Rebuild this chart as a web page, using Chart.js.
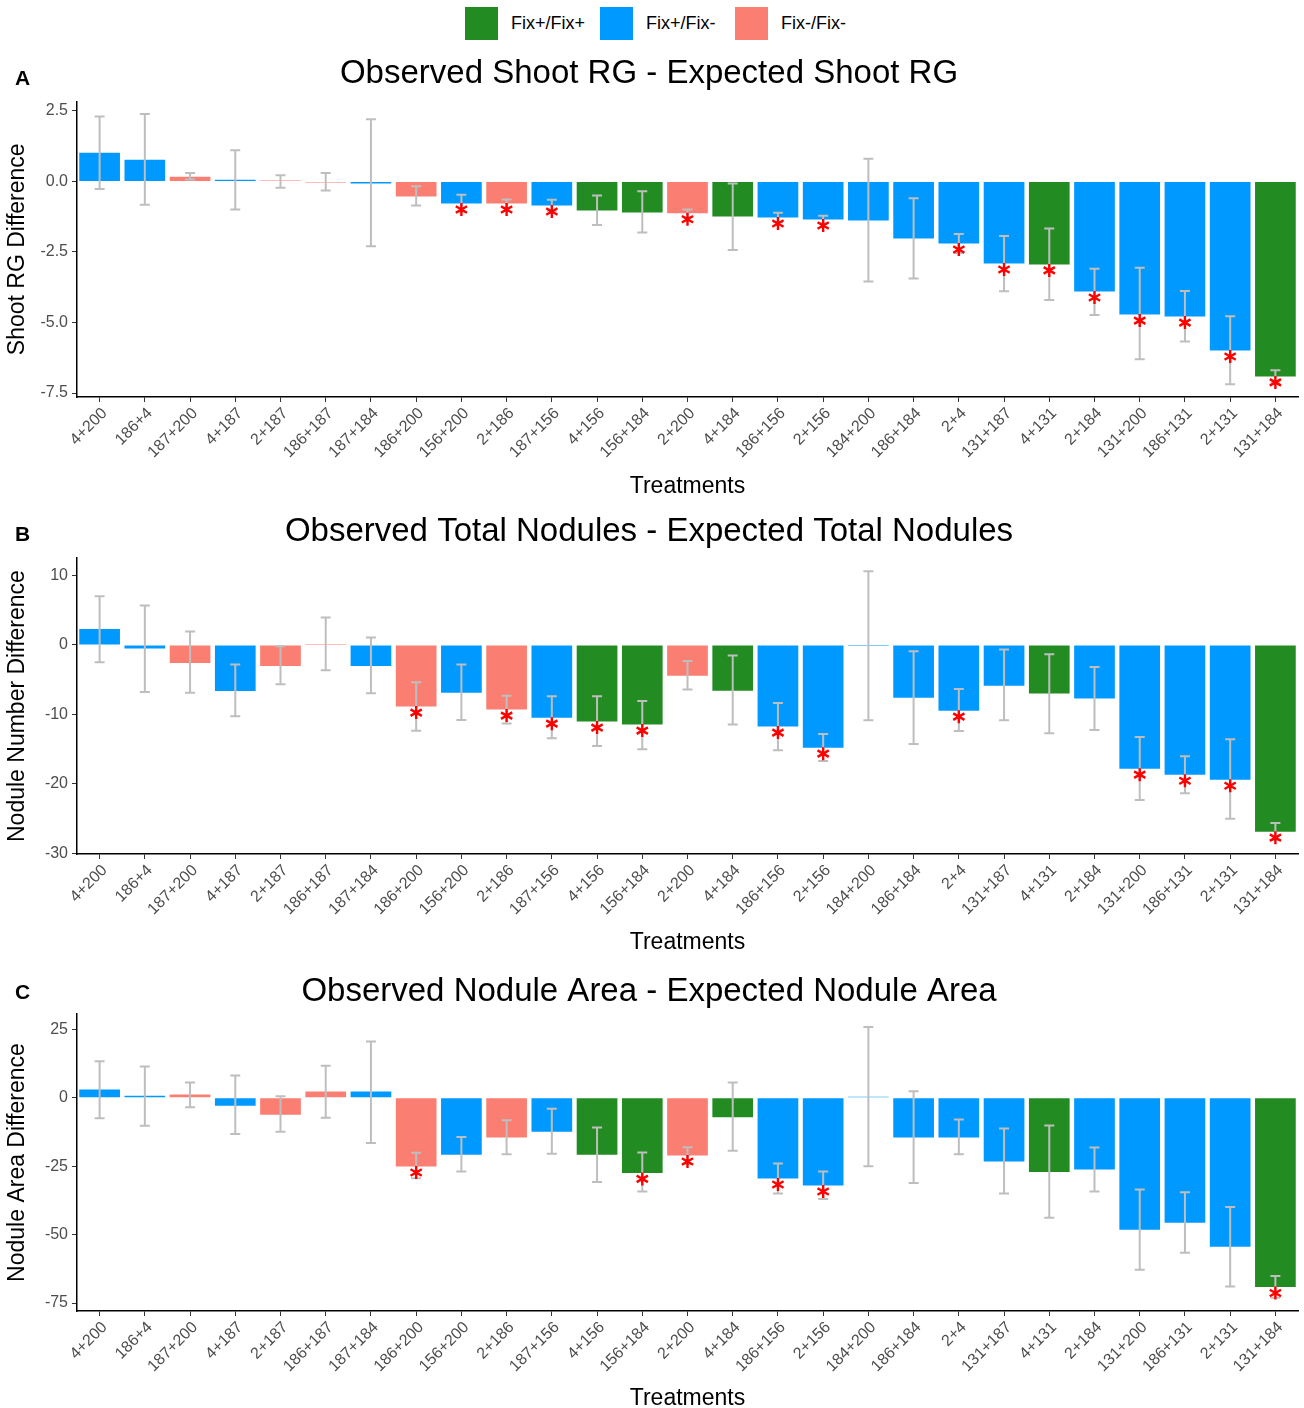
<!DOCTYPE html>
<html lang="en">
<head>
<meta charset="UTF-8"/>
<title>Observed - Expected differences</title>
<script src="https://cdn.jsdelivr.net/npm/chart.js"></script>
<style>
    html, body {
        margin: 0;
        padding: 0;
        background: #fff;
        width: 1304px;
        height: 1408px;
        overflow: hidden;
        font-family: 'Liberation Sans', Arial, sans-serif;
    }
    .legend {
        height: 48px;
        display: flex;
        padding: 7px 0 0 465px;
        box-sizing: border-box;
    }
    .legend-item {
        display: flex;
        align-items: center;
        width: 135px;
        height: 33px;
        font-size: 18px;
        color: #000;
    }
    .legend-item .box {
        width: 33px;
        height: 33px;
        margin-right: 13px;
    }
    canvas { display: block; }
</style>
</head>
<body>
<div class="legend" id="legend"></div>
<canvas id="chartA" width="1304" height="457"></canvas>
<canvas id="chartB" width="1304" height="455"></canvas>
<canvas id="chartC" width="1304" height="456"></canvas>

<script>
    const FONT = "'Liberation Sans', Arial, sans-serif";

    // treatments in plotted order, and their fixation group
    const treatments = ['4+200', '186+4', '187+200', '4+187', '2+187', '186+187', '187+184', '186+200', '156+200',
        '2+186', '187+156', '4+156', '156+184', '2+200', '4+184', '186+156', '2+156', '184+200', '186+184',
        '2+4', '131+187', '4+131', '2+184', '131+200', '186+131', '2+131', '131+184'];
    const fixGroup = ['Fix+/Fix-', 'Fix+/Fix-', 'Fix-/Fix-', 'Fix+/Fix-', 'Fix-/Fix-', 'Fix-/Fix-', 'Fix+/Fix-', 'Fix-/Fix-', 'Fix+/Fix-',
        'Fix-/Fix-', 'Fix+/Fix-', 'Fix+/Fix+', 'Fix+/Fix+', 'Fix-/Fix-', 'Fix+/Fix+', 'Fix+/Fix-', 'Fix+/Fix-', 'Fix+/Fix-', 'Fix+/Fix-',
        'Fix+/Fix-', 'Fix+/Fix-', 'Fix+/Fix+', 'Fix+/Fix-', 'Fix+/Fix-', 'Fix+/Fix-', 'Fix+/Fix-', 'Fix+/Fix+'];
    const groupNames = ['Fix+/Fix+', 'Fix+/Fix-', 'Fix-/Fix-'];
    const groupColors = ['#228B22', '#0099FF', '#FA7F72'];

    // A: shoot RG difference
    const shootDiff = [1.02, 0.77, 0.17, 0.06, 0.02, -0.02, -0.07, -0.53, -0.78, -0.78, -0.85, -1.03, -1.10, -1.13,
        -1.24, -1.28, -1.35, -1.38, -2.02, -2.20, -2.91, -2.94, -3.90, -4.72, -4.79, -5.99, -6.91];
    const shootLow = [-0.27, -0.83, 0.07, -0.99, -0.22, -0.32, -2.30, -0.85, -1.09, -0.92, -1.05, -1.54, -1.81, -1.27,
        -2.43, -1.45, -1.48, -3.55, -3.44, -2.54, -3.89, -4.20, -4.73, -6.30, -5.67, -7.19, -7.13];
    const shootHigh = [2.30, 2.39, 0.30, 1.11, 0.22, 0.30, 2.20, -0.17, -0.47, -0.64, -0.65, -0.50, -0.35, -0.99,
        -0.07, -1.11, -1.22, 0.80, -0.60, -1.86, -1.93, -1.67, -3.09, -3.06, -3.88, -4.78, -6.69];
    const shootSig = ['156+200', '2+186', '187+156', '2+200', '186+156', '2+156', '2+4', '131+187', '4+131',
        '2+184', '131+200', '186+131', '2+131', '131+184'];
    const shootTicks = [-7.5, -5, -2.5, 0, 2.5];

    // B: total nodule number difference
    const noduleDiff = [2.30, -0.53, -2.59, -6.62, -3.02, 0.15, -3.02, -8.88, -6.87, -9.31, -10.47, -11.04, -11.47, -4.42,
        -6.58, -11.76, -14.79, -0.08, -7.59, -9.46, -5.86, -7.01, -7.73, -17.81, -18.68, -19.40, -26.88];
    const noduleLow = [-2.5, -6.77, -6.87, -10.27, -5.66, -3.65, -6.96, -12.34, -10.8, -11.3, -13.44, -14.55, -15.03, -6.43,
        -11.47, -15.17, -16.7, -10.85, -14.26, -12.39, -10.85, -12.72, -12.24, -22.32, -21.36, -25.01, -28.1];
    const noduleHigh = [7.0, 5.66, 1.92, -2.83, -0.19, 3.94, 1.06, -5.38, -2.83, -7.30, -7.39, -7.39, -8.07, -2.30,
        -1.54, -8.35, -12.82, 10.6, -0.91, -6.34, -0.67, -1.34, -3.17, -13.25, -16.03, -13.59, -25.64];
    const noduleSig = ['186+200', '2+186', '187+156', '4+156', '156+184', '186+156', '2+156', '2+4',
        '131+200', '186+131', '2+131', '131+184'];
    const noduleTicks = [-30, -20, -10, 0, 10];

    // C: nodule area difference
    const areaDiff = [2.93, 0.73, 1.1, -2.93, -6.23, 2.2, 2.2, -25.15, -20.88, -14.53, -12.45, -20.88, -27.47, -21.12,
        -7.2, -29.55, -32.11, 0.3, -14.53, -14.53, -23.32, -27.11, -26.25, -48.23, -45.67, -54.46, -69.11];
    const areaLow = [-7.57, -10.26, -3.54, -13.31, -12.45, -7.33, -16.6, -29.4, -26.98, -20.63, -20.51, -30.77, -34.31, -24.2,
        -19.41, -35.04, -37.0, -25.03, -31.14, -20.63, -35.04, -43.83, -34.31, -62.88, -56.65, -68.99, -73.1];
    const areaHigh = [13.3, 11.36, 5.5, 8.06, 0.49, 11.6, 20.5, -20.15, -14.41, -8.30, -4.03, -10.87, -20.02, -18.07,
        5.49, -24.05, -26.98, 25.76, 2.32, -7.94, -11.23, -10.13, -18.19, -33.58, -34.55, -39.93, -65.08];
    const areaSig = ['186+200', '156+184', '2+200', '186+156', '2+156', '131+184'];
    const areaTicks = [-75, -50, -25, 0, 25];

    // legend (shared by all panels)
    const legendDiv = document.getElementById('legend');
    groupNames.forEach((name, i) => {
        const item = document.createElement('div');
        item.className = 'legend-item';
        item.innerHTML = '<span class="box" style="background:' + groupColors[i] + '"></span>' + name;
        legendDiv.appendChild(item);
    });

    // error bars + significance stars, drawn on top of the bars
    const errorBarPlugin = {
        id: 'errorBars',
        afterDatasetsDraw(chart) {
            const ds = chart.data.datasets[0];
            const meta = chart.getDatasetMeta(0);
            const y = chart.scales.y;
            const ctx = chart.ctx;
            ctx.save();
            ctx.strokeStyle = '#BEBEBE';
            ctx.lineWidth = 2;
            meta.data.forEach((bar, i) => {
                const top = y.getPixelForValue(ds.errHigh[i]);
                const bot = y.getPixelForValue(ds.errLow[i]);
                ctx.beginPath();
                ctx.moveTo(bar.x, top); ctx.lineTo(bar.x, bot);
                ctx.moveTo(bar.x - 5, top); ctx.lineTo(bar.x + 5, top);
                ctx.moveTo(bar.x - 5, bot); ctx.lineTo(bar.x + 5, bot);
                ctx.stroke();
            });
            ctx.strokeStyle = '#FF0000';
            ctx.lineWidth = 2.4;
            meta.data.forEach((bar, i) => {
                if (!ds.sig.includes(treatments[i])) return;
                const cx = bar.x;
                const cy = ds.data[i] < 0 ? bar.y + 6 : bar.y - 6;
                const r = 6.5;
                ctx.beginPath();
                [90, 30, 150].forEach(deg => {
                    const a = deg * Math.PI / 180;
                    ctx.moveTo(cx - r * Math.cos(a), cy - r * Math.sin(a));
                    ctx.lineTo(cx + r * Math.cos(a), cy + r * Math.sin(a));
                });
                ctx.stroke();
            });
            ctx.restore();
        }
    };

    // bold panel letter in the top-left corner
    const panelLetterPlugin = {
        id: 'panelLetter',
        afterDraw(chart, args, opts) {
            const ctx = chart.ctx;
            ctx.save();
            ctx.font = 'bold 21px ' + FONT;
            ctx.fillStyle = '#000';
            ctx.textBaseline = 'middle';
            ctx.fillText(opts.text, 15, opts.y);
            ctx.restore();
        }
    };

    function makePanel(canvasId, p) {
        const ctx = document.getElementById(canvasId).getContext('2d');
        return new Chart(ctx, {
            type: 'bar',
            data: {
                labels: treatments,
                datasets: [{
                    data: p.values,
                    errLow: p.low,
                    errHigh: p.high,
                    sig: p.sig,
                    backgroundColor: fixGroup.map(g => groupColors[groupNames.indexOf(g)]),
                    borderWidth: 0,
                    categoryPercentage: 1.0,
                    barPercentage: 0.9,
                    minBarLength: 1
                }]
            },
            plugins: [errorBarPlugin, panelLetterPlugin],
            options: {
                responsive: false,
                animation: false,
                layout: { padding: { left: 0, right: 6, top: 0, bottom: 0 } },
                scales: {
                    x: {
                        offset: true,
                        grid: { offset: false, drawOnChartArea: false, drawTicks: true, tickLength: 5, color: '#333', lineWidth: 1 },
                        border: { display: true, color: '#000', width: 1.5 },
                        ticks: { autoSkip: false, maxRotation: 45, minRotation: 45, labelOffset: 5, color: '#4D4D4D', padding: 2, font: { size: 16, family: FONT } },
                        title: { display: true, text: 'Treatments', color: '#000', font: { size: 23, family: FONT }, padding: { top: 0, bottom: p.xTitlePad } },
                        afterFit: s => { s.height = p.xHeight; }
                    },
                    y: {
                        min: p.yMin,
                        max: p.yMax,
                        afterBuildTicks: s => { s.ticks = p.ticks.map(v => ({ value: v })); },
                        grid: { drawOnChartArea: false, drawTicks: true, tickLength: 5, color: '#333', lineWidth: 1 },
                        border: { display: true, color: '#000', width: 1.5 },
                        ticks: { color: '#4D4D4D', padding: 4, font: { size: 16, family: FONT }, callback: v => v.toFixed(p.decimals) },
                        title: { display: true, text: p.yTitle, color: '#000', font: { size: 23, family: FONT }, padding: { top: 4, bottom: 0 } },
                        afterFit: s => { s.width = 77; }
                    }
                },
                plugins: {
                    legend: { display: false },
                    tooltip: { enabled: false },
                    title: {
                        display: true,
                        text: p.title,
                        color: '#000',
                        font: { size: 33, weight: 'normal', family: FONT },
                        padding: { top: p.titlePad[0], bottom: p.titlePad[1] }
                    },
                    panelLetter: { text: p.letter, y: p.letterY }
                }
            }
        });
    }

    makePanel('chartA', {
        values: shootDiff, low: shootLow, high: shootHigh, sig: shootSig, ticks: shootTicks, decimals: 1,
        yMin: -7.64, yMax: 2.83, yTitle: 'Shoot RG Difference',
        title: 'Observed Shoot RG - Expected Shoot RG',
        letter: 'A', letterY: 31, titlePad: [6, 8], xHeight: 108, xTitlePad: 5
    });

    makePanel('chartB', {
        values: noduleDiff, low: noduleLow, high: noduleHigh, sig: noduleSig, ticks: noduleTicks, decimals: 0,
        yMin: -30.1, yMax: 12.5, yTitle: 'Nodule Number Difference',
        title: 'Observed Total Nodules - Expected Total Nodules',
        letter: 'B', letterY: 30, titlePad: [7, 6.5], xHeight: 106, xTitlePad: 4
    });

    makePanel('chartC', {
        values: areaDiff, low: areaLow, high: areaHigh, sig: areaSig, ticks: areaTicks, decimals: 0,
        yMin: -77.9, yMax: 30.5, yTitle: 'Nodule Area Difference',
        title: 'Observed Nodule Area - Expected Nodule Area',
        letter: 'C', letterY: 33, titlePad: [12, 2.5], xHeight: 105, xTitlePad: 4
    });
</script>
</body>
</html>
